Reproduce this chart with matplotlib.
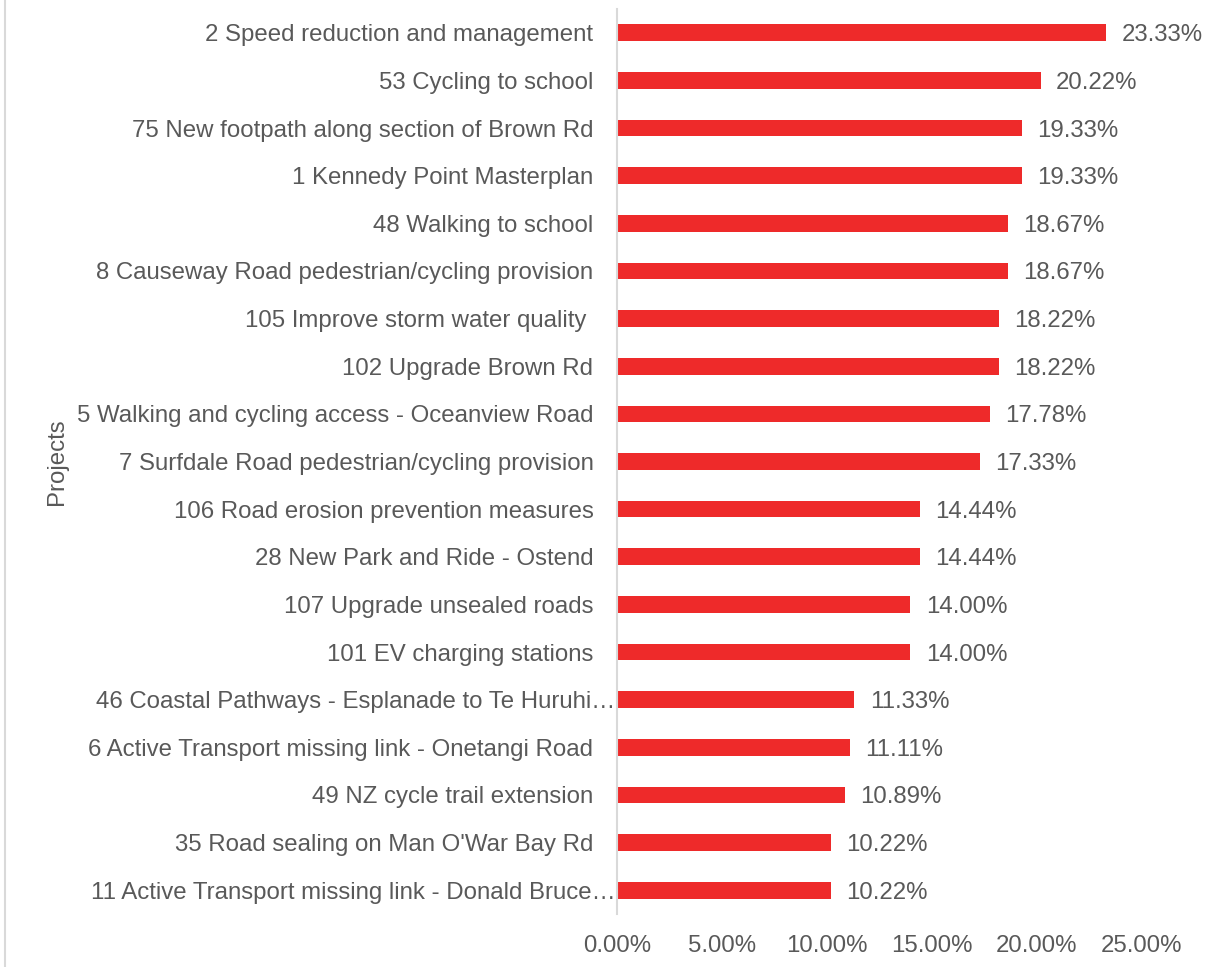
import matplotlib
matplotlib.use('Agg')
import matplotlib.pyplot as plt
from matplotlib.lines import Line2D
from matplotlib.ticker import FuncFormatter

# Data (top to bottom as shown)
projects = [
    "2 Speed reduction and management",
    "53 Cycling to school",
    "75 New footpath along section of Brown Rd",
    "1 Kennedy Point Masterplan",
    "48 Walking to school",
    "8 Causeway Road pedestrian/cycling provision",
    "105 Improve storm water quality ",
    "102 Upgrade Brown Rd",
    "5 Walking and cycling access - Oceanview Road",
    "7 Surfdale Road pedestrian/cycling provision",
    "106 Road erosion prevention measures",
    "28 New Park and Ride - Ostend",
    "107 Upgrade unsealed roads",
    "101 EV charging stations",
    "46 Coastal Pathways - Esplanade to Te Huruhi\u2026",
    "6 Active Transport missing link - Onetangi Road",
    "49 NZ cycle trail extension",
    "35 Road sealing on Man O'War Bay Rd",
    "11 Active Transport missing link - Donald Bruce\u2026",
]
shares = [23.33, 20.22, 19.33, 19.33, 18.67, 18.67, 18.22, 18.22, 17.78, 17.33,
          14.44, 14.44, 14.00, 14.00, 11.33, 11.11, 10.89, 10.22, 10.22]
x_ticks = [0, 5, 10, 15, 20, 25]

plt.rcParams['font.family'] = ['Liberation Sans', 'DejaVu Sans']
text_color = '#595959'
bar_color = '#EE2A2A'
fs = 17.3

fig = plt.figure(figsize=(12.07, 9.67), dpi=100)
ax = fig.add_axes([617 / 1207, 1 - 914 / 967, (1141 - 617) / 1207, (914 - 9) / 967])

ypos = list(range(len(projects)))
ax.barh(ypos, shares, height=0.35, color=bar_color)
for y, v in zip(ypos, shares):
    ax.annotate(f"{v:.2f}%", (v, y), xytext=(11, 0), textcoords='offset points',
                va='center_baseline', ha='left', fontsize=fs, color=text_color)

ax.set_ylim(len(projects) - 0.5, -0.5)
ax.set_xlim(0, 25)
ax.set_yticks(ypos)
ax.set_yticklabels(projects, va='center_baseline')
ax.set_xticks(x_ticks)
ax.xaxis.set_major_formatter(FuncFormatter(lambda v, p: f"{v:.2f}%"))
ax.tick_params(axis='y', length=0, pad=17, labelsize=fs, labelcolor=text_color)
ax.tick_params(axis='x', length=0, pad=15, labelsize=fs, labelcolor=text_color)

# truncated labels (ending in an ellipsis) run right up to the axis, like Excel does
for tick, name in zip(ax.yaxis.get_major_ticks(), projects):
    if name.endswith('\u2026'):
        tick.set_pad(1.2)

for side in ['top', 'right', 'bottom']:
    ax.spines[side].set_visible(False)
ax.spines['left'].set_color('#D9D9D9')
ax.spines['left'].set_linewidth(1.5)

fig.text(57 / 1207, 1 - 462 / 967, "Projects", rotation=90, ha='center', va='center',
         fontsize=fs, color=text_color)

# light border on the left edge of the chart area
fig.add_artist(Line2D([5 / 1207, 5 / 1207], [0, 1], color='#D9D9D9', linewidth=1.5))

fig.savefig('out.png', dpi=100)
